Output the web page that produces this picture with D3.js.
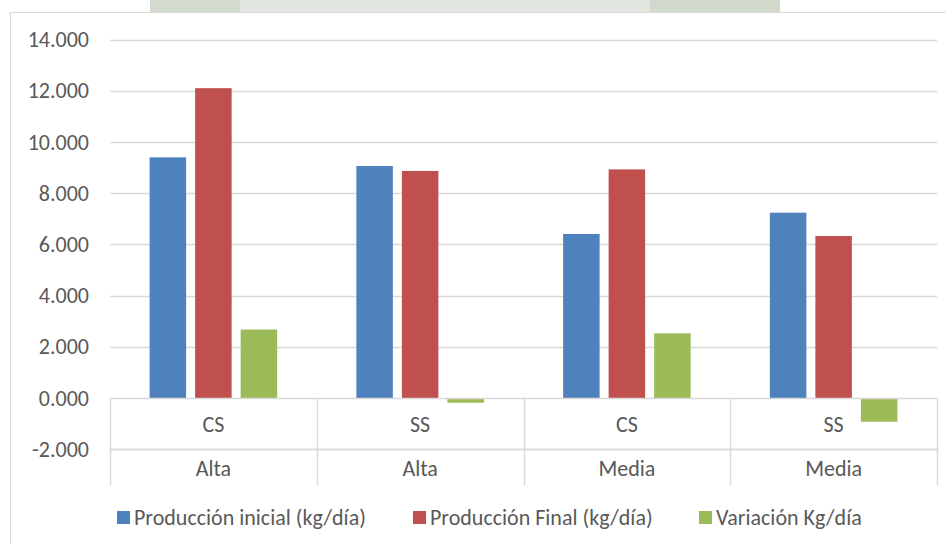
<!DOCTYPE html>
<html><head><meta charset="utf-8">
<script src="https://cdn.jsdelivr.net/npm/d3@7"></script>
<style>
html,body{margin:0;padding:0;background:#fff;}
text{font-family:Carlito,Calibri,"Liberation Sans Narrow","Noto Sans",sans-serif;fill:#595959;}
</style></head><body>
<svg id="c" width="946" height="544"></svg>
<script>
const subCategories = ["CS","SS","CS","SS"];
const mainCategories = ["Alta","Alta","Media","Media"];
const seriesNames = ["Producción inicial (kg/día)","Producción Final (kg/día)","Variación Kg/día"];
const produccionInicial = [9.400, 9.060, 6.410, 7.240];
const produccionFinal = [12.100, 8.870, 8.930, 6.330];
const variacion = [2.680, -0.180, 2.530, -0.920];
const yTicks = [-2,0,2,4,6,8,10,12,14];
const colors = ["#4f81bd","#c0504d","#9bbb59"];

const FS = 22;
const svg = d3.select("#c");
// faint watermark strip at top
const wm = svg.append("g");
wm.append("rect").attr("x",150).attr("y",0).attr("width",90).attr("height",12).attr("fill","#d3dbd0");
wm.append("rect").attr("x",240).attr("y",0).attr("width",410).attr("height",12).attr("fill","#e2e6e1");
wm.append("rect").attr("x",650).attr("y",0).attr("width",130).attr("height",12).attr("fill","#d0d9cc");
// chart frame
svg.append("rect").attr("x",10.5).attr("y",12.5).attr("width",950).attr("height",540)
  .attr("fill","#fff").attr("stroke","#d9d9d9");

const left=110, right=937;
const y = d3.scaleLinear().domain([-2,14]).range([449.4,39.5]);
const x0 = d3.scaleBand().domain(d3.range(subCategories.length)).range([left,right]).padding(0);
const x1 = d3.scaleBand().domain([0,1,2]).range([0,x0.bandwidth()]).paddingInner(0.198).paddingOuter(0.87);

// gridlines
svg.append("g").selectAll("line").data(yTicks.filter(t=>t!==0)).join("line")
  .attr("x1",left).attr("x2",right).attr("y1",d=>Math.round(y(d))+0.5).attr("y2",d=>Math.round(y(d))+0.5)
  .attr("stroke","#d9d9d9").attr("stroke-width",1.5);

// y axis labels
const yAxis = d3.axisLeft(y).tickValues(yTicks).tickSize(0).tickPadding(0)
  .tickFormat(d=>d3.format(".3f")(d).replace("−","-"));
const ga = svg.append("g").attr("transform",`translate(89,0)`).call(yAxis);
ga.select(".domain").remove();
ga.selectAll("text").attr("font-size",FS).attr("fill","#595959")
  .style("font-family",'Carlito,Calibri,"Liberation Sans Narrow","Noto Sans",sans-serif');

// bars
const series=[produccionInicial,produccionFinal,variacion];
series.forEach((vals,si)=>{
  svg.append("g").selectAll("rect").data(vals).join("rect")
    .attr("x",(d,i)=>x0(i)+x1(si))
    .attr("width",x1.bandwidth())
    .attr("y",d=>y(Math.max(0,d)))
    .attr("height",d=>Math.abs(y(d)-y(0)))
    .attr("fill",colors[si]);
});

// category axis table
const yZero = Math.round(y(0))+0.5, yMid = Math.round(y(-2))+0.5, yBot = 485.5;
const cat = svg.append("g").attr("stroke","#d9d9d9").attr("stroke-width",1.5);
cat.append("line").attr("x1",left).attr("x2",right).attr("y1",yZero).attr("y2",yZero);
cat.append("line").attr("x1",left).attr("x2",right).attr("y1",yMid).attr("y2",yMid);
const seps = d3.range(subCategories.length+1).map(i=> i<subCategories.length ? x0(i) : right);
cat.selectAll("line.v").data(seps).join("line").attr("class","v")
  .attr("x1",d=>Math.round(d)+0.5).attr("x2",d=>Math.round(d)+0.5).attr("y1",yZero).attr("y2",yBot);

svg.append("g").selectAll("text").data(subCategories).join("text")
  .attr("x",(d,i)=>x0(i)+x0.bandwidth()/2).attr("y",425).attr("dy","0.32em")
  .attr("text-anchor","middle").attr("font-size",FS).text(d=>d);
svg.append("g").selectAll("text").data(mainCategories).join("text")
  .attr("x",(d,i)=>x0(i)+x0.bandwidth()/2).attr("y",469).attr("dy","0.32em")
  .attr("text-anchor","middle").attr("font-size",FS).text(d=>d);

// legend
const legX=[117,413,699];
const lg = svg.append("g").selectAll("g").data(seriesNames).join("g")
  .attr("transform",(d,i)=>`translate(${legX[i]},511)`);
lg.append("rect").attr("width",13).attr("height",13).attr("fill",(d,i)=>colors[i]);
lg.append("text").attr("x",17).attr("y",6.5).attr("dy","0.35em").attr("font-size",FS).text(d=>d);
</script></body></html>
